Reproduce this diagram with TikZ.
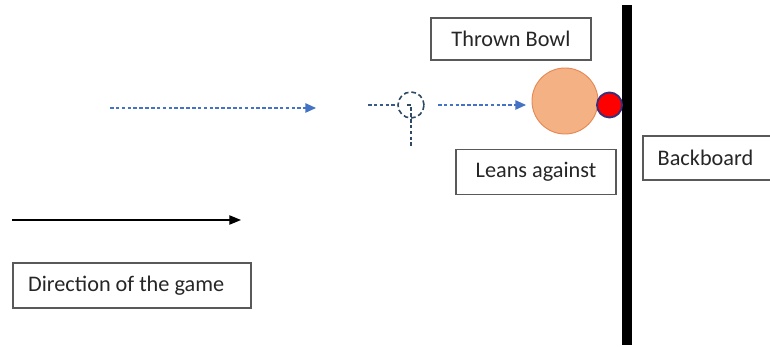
\documentclass[tikz,border=0pt]{standalone}
\usepackage{fontspec}
\setmainfont{Carlito}
\usetikzlibrary{arrows.meta}
\definecolor{dashblue}{HTML}{4472C4}
\definecolor{slate}{HTML}{2F4A64}
\definecolor{bowlfill}{HTML}{F4B183}
\definecolor{bowldraw}{HTML}{E58A55}
\definecolor{jackdraw}{HTML}{3C2F7A}
\tikzset{
  label box/.style={draw=black!65, line width=1pt, fill=white, inner sep=0pt,
    font=\fontsize{19}{22}\selectfont, text=black!85},
  path dash/.style={dashblue, line width=1pt, dash pattern=on 3pt off 2pt},
  blue tip/.style={-{Triangle[length=9pt,width=8pt]}}
}
\begin{document}
\begin{tikzpicture}[x=0.03cm, y=-0.03cm]
  \useasboundingbox (0,0) rectangle (770,347);
  %backboard
  \coordinate (board top) at (627,5);
  \coordinate (board bottom) at (627,345);
  \draw[line width=7.7pt] (board top) -- (board bottom);
  %labels
  \node[label box, minimum width=4.8cm, minimum height=1.26cm] (thrown) at (511,39) {Thrown Bowl};
  \node[label box, minimum width=4.8cm, minimum height=1.35cm] (leans) at (536,172) {Leans against};
  \node[label box, minimum width=3.96cm, minimum height=1.32cm, text depth=0pt] (board) at (709,158) {\hspace*{-6pt}Backboard};
  \node[label box, minimum width=7.14cm, minimum height=1.35cm] (direction) at (132,285.5) {\hspace*{-10pt}Direction of the game};
  %bowl and jack
  \node[circle, fill=bowlfill, draw=bowldraw, line width=0.8pt, minimum size=1.98cm, inner sep=0pt] (bowl) at (565,101) {};
  \node[circle, fill=red, draw=jackdraw, line width=1.6pt, minimum size=0.75cm, inner sep=0pt] (jack) at (609.5,105) {};
  %start position
  \node[circle, draw=slate, line width=1.4pt, dash pattern=on 4pt off 2.5pt, minimum size=0.78cm, inner sep=0pt] (start) at (411,105) {};
  \coordinate (start in) at (368,105);
  \coordinate (start low) at (411,148);
  \draw[slate!60!dashblue, line width=0.9pt, dash pattern=on 3pt off 2pt] (start in) -- (start.west);
  \draw[slate, line width=0.9pt, dash pattern=on 3pt off 2pt] ([xshift=-3pt]start.center) -- (start.center) -- (start low);
  %paths of the bowl
  \coordinate (run a) at (110,108);
  \coordinate (run b) at (316,108);
  \coordinate (run c) at (438,105);
  \coordinate (run d) at (526,105);
  \draw[path dash, blue tip] (run a) -- (run b);
  \draw[path dash, blue tip] (run c) -- (run d);
  %game direction
  \coordinate (dir a) at (12,220);
  \coordinate (dir b) at (241,220);
  \draw[line width=1pt, -{Triangle[length=10pt,width=8pt]}] (dir a) -- (dir b);
\end{tikzpicture}
\end{document}
